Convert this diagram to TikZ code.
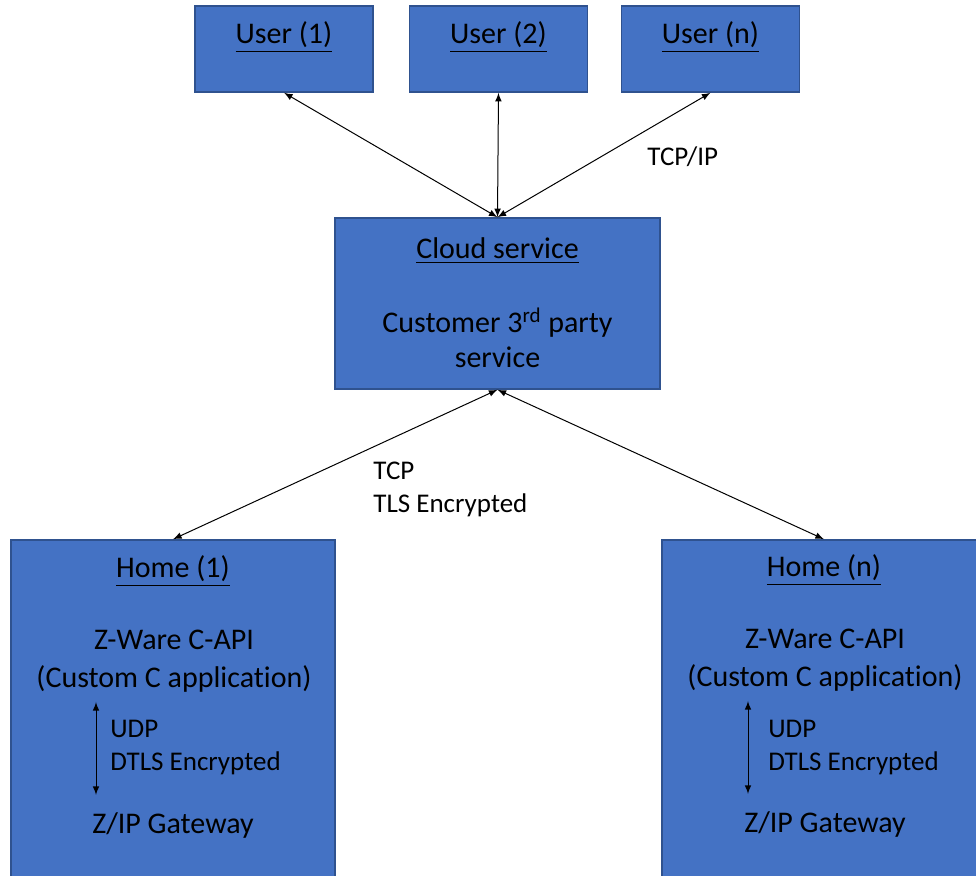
\documentclass[tikz,border=0pt]{standalone}
\usepackage{fontspec}
\setmainfont[Ligatures=NoCommon]{Carlito}
\definecolor{boxblue}{HTML}{4472C4}
\definecolor{boxedge}{HTML}{2F528F}
\begin{document}
\begin{tikzpicture}[x=0.5pt, y=-0.5pt,
	blk/.style={draw=boxedge, line width=0.75pt, fill=boxblue, inner sep=0pt},
	user/.style={blk, minimum width=89pt, minimum height=43pt},
	home/.style={blk, minimum width=162pt, minimum height=172pt},
	big/.style={font=\fontsize{15}{19}\selectfont, align=center, inner sep=0pt},
	small/.style={font=\fontsize{13.5}{16.5}\selectfont, align=left, inner sep=0pt},
	link/.style={latex-latex, line width=0.5pt, black}]
	\useasboundingbox (0,0) rectangle (976,876);

	% users
	\node[user] (u1) at (284,49) {};
	\node[user] (u2) at (498.5,49) {};
	\node[user] (un) at (710.5,49) {};
	\node[big, anchor=base] (u1t) at (284,44) {\underline{User (1)}};
	\node[big, anchor=base] (u2t) at (498.5,44) {\underline{User (2)}};
	\node[big, anchor=base] (unt) at (710.5,44) {\underline{User (n)}};

	% cloud
	\node[blk, minimum width=162.5pt, minimum height=85.5pt] (cloud) at (497.5,303.5) {};
	\node[big, anchor=base] (cloudt) at (497.5,259) {\underline{Cloud service}};
	\node[big, font=\fontsize{15}{17.5}\selectfont] (cust) at (497.5,338) {Customer 3\textsuperscript{rd} party\\service};

	% homes
	\node[home] (h1) at (173,712) {};
	\node[home] (hn) at (824,712) {};
	\node[big, anchor=base] (h1t) at (173,578) {\underline{Home (1)}};
	\node[big, anchor=base] (hnt) at (824,577) {\underline{Home (n)}};
	\node[big] (zw1) at (174,661) {Z-Ware C-API\\(Custom C application)};
	\node[big] (zwn) at (825,660) {Z-Ware C-API\\(Custom C application)};
	\node[big] (gw1) at (173,826) {Z/IP Gateway};
	\node[big] (gwn) at (825,825) {Z/IP Gateway};
	\node[small, anchor=west] (udp1) at (110,748) {UDP\\DTLS Encrypted};
	\node[small, anchor=west] (udpn) at (768,748) {UDP\\DTLS Encrypted};
	\coordinate (a1) at (96,702);
	\coordinate (b1) at (96,795);
	\coordinate (an) at (748,701);
	\coordinate (bn) at (748,794);
	\draw[link] (a1) -- (b1);
	\draw[link] (an) -- (bn);

	% links
	\draw[link] (u1.south) -- (cloud.north);
	\draw[link] (u2.south) -- (cloud.north);
	\draw[link] (un.south) -- (cloud.north);
	\node[small, anchor=base west] (tcpip) at (647,166) {TCP/IP};
	\draw[link] (cloud.south) -- (h1.north);
	\draw[link] (cloud.south) -- (hn.north);
	\node[small, anchor=west] (tcp) at (373,489) {TCP\\TLS Encrypted};
\end{tikzpicture}
\end{document}
